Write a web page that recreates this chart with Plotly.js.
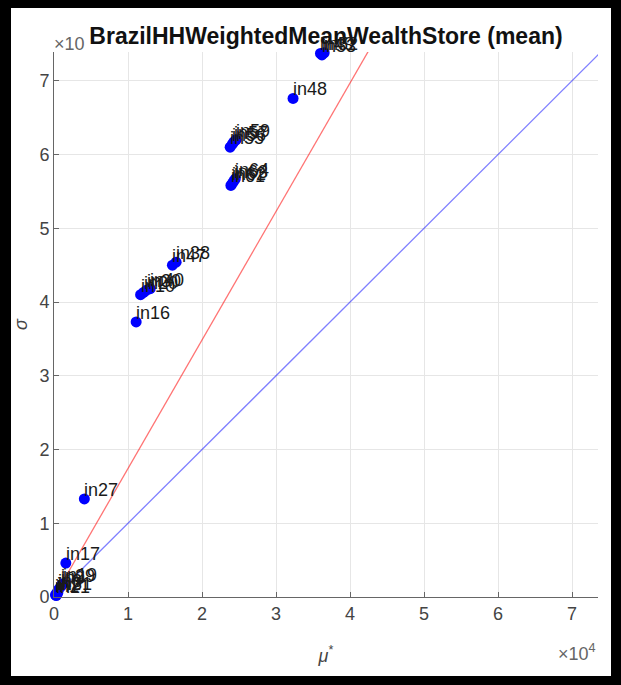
<!DOCTYPE html>
<html>
<head>
<meta charset="utf-8">
<script src="https://cdn.plot.ly/plotly-3.0.1.min.js"></script>
<style>
html,body{margin:0;padding:0;background:#000;width:621px;height:685px;overflow:hidden;}
#chart{position:absolute;left:11px;top:8px;width:600px;height:668px;background:#fff;}
</style>
</head>
<body>
<div id="chart"></div>
<script>
// Point labels
const labels = ['in49','in50','in52','in53',
  'in48',
  'in55','in56','in57','in59',
  'in61','in62','in63','in64',
  'in47','in38',
  'in10','in20','in30','in40',
  'in16','in27','in17',
  'in1','in2','in3','in9','in19','in29','in31','in21'];
// mu* (x) values
const mu = [36000,36300,36500,36200,
  32300,
  23800,24100,24300,24600,
  23900,24100,24300,24500,
  16000,16500,
  11700,12100,12500,13000,
  11100,4100,1600,
  200,400,600,900,1200,1000,500,300];
// sigma (y) values
const sigma = [73700,74000,73800,73500,
  67600,
  61000,61400,61700,62000,
  55800,56100,56400,56700,
  45000,45400,
  41000,41300,41600,41800,
  37300,13300,4600,
  300,600,1000,1400,1800,1600,500,200];
// reference lines
const refMu = [0, 80000];
const redSigma = [0, 139400];
const blueSigma = [0, 80000];
const tickVals = [0,10000,20000,30000,40000,50000,60000,70000];
const tickText = ['0','1','2','3','4','5','6','7'];

const FONT = 'Liberation Sans, Arial, sans-serif';
const traces = [
  {x: refMu, y: redSigma, mode:'lines', line:{color:'rgba(255,0,0,0.55)', width:1.3}, hoverinfo:'skip'},
  {x: refMu, y: blueSigma, mode:'lines', line:{color:'rgba(0,0,255,0.5)', width:1.3}, hoverinfo:'skip'},
  {x: mu, y: sigma, mode:'markers', marker:{color:'#0000ff', size:11}, cliponaxis:false}
];
const pointLabels = labels.map((t, i) => ({
  x: mu[i], y: sigma[i], xref:'x', yref:'y', text: t, showarrow:false,
  xanchor:'left', yanchor:'bottom', xshift:-1, yshift:-2, borderpad:0,
  font:{family:FONT, size:18, color:'#1a1a1a'}
}));
const axisCommon = {
  showline:true, linecolor:'#666', linewidth:1,
  ticks:'inside', ticklen:5, tickcolor:'#666',
  showgrid:true, gridcolor:'#e6e6e6', zeroline:false,
  tickvals: tickVals, ticktext: tickText,
  tickfont:{family:FONT, size:18, color:'#444'},
  mirror:false, fixedrange:true
};
const layout = {
  width:600, height:668,
  margin:{l:43, r:13, t:44, b:79, pad:0},
  paper_bgcolor:'#fff', plot_bgcolor:'#fff',
  showlegend:false,
  title:{text:'<b>BrazilHHWeightedMeanWealthStore (mean)</b>', font:{family:FONT, size:23, color:'#111'},
    xref:'paper', x:0.5, xanchor:'center', yref:'container', y:0.958, yanchor:'middle'},
  xaxis: Object.assign({}, axisCommon, {range:[0,73500],
    title:{text:'<i>μ</i><sup>*</sup>', font:{family:FONT, size:18, color:'#444'}, standoff:26}}),
  yaxis: Object.assign({}, axisCommon, {range:[0,73900],
    title:{text:'<i>σ</i>', font:{family:FONT, size:18, color:'#444'}, standoff:7}}),
  annotations: pointLabels.concat([
    {xref:'paper', yref:'paper', x:0, y:1, xanchor:'left', yanchor:'bottom', showarrow:false,
     text:'×10', font:{family:FONT, size:18, color:'#666'}, xshift:-2, yshift:-4},
    {xref:'paper', yref:'paper', x:1, y:0, xanchor:'right', yanchor:'top', showarrow:false,
     text:'×10<sup>4</sup>', font:{family:FONT, size:18, color:'#666'}, yshift:-42}
  ])
};
Plotly.newPlot('chart', traces, layout, {displayModeBar:false, staticPlot:true});
</script>
</body>
</html>
